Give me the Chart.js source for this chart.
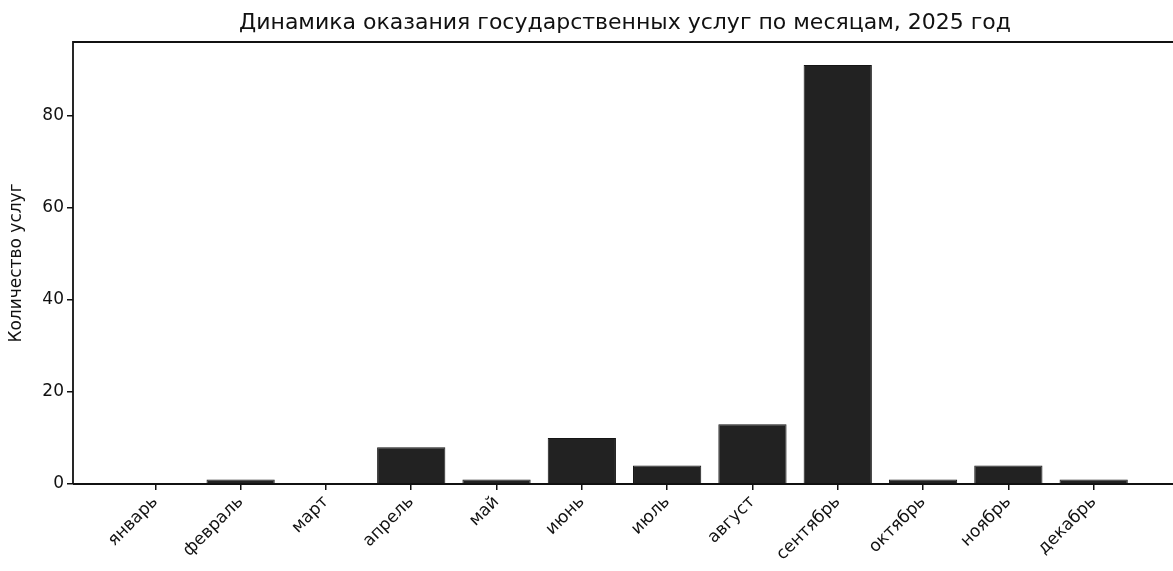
<!DOCTYPE html>
<html>
<head>
<meta charset="utf-8">
<script src="https://cdn.jsdelivr.net/npm/chart.js@4/dist/chart.umd.min.js"></script>
<style>
  html, body { margin: 0; padding: 0; background: #ffffff; }
  #wrap { width: 1173px; height: 571px; position: relative; }
</style>
</head>
<body>
<div id="wrap"><canvas id="c" width="1173" height="571"></canvas></div>
<script>
const chartTitle = 'Динамика оказания государственных услуг по месяцам, 2025 год';
const yAxisTitle = 'Количество услуг';
const months = ['январь', 'февраль', 'март', 'апрель', 'май', 'июнь', 'июль', 'август', 'сентябрь', 'октябрь', 'ноябрь', 'декабрь'];
const services = [0, 1, 0, 8, 1, 10, 4, 13, 91, 1, 4, 1];
const yTicks = [0, 20, 40, 60, 80];

const FONT = "'DejaVu Sans', sans-serif";
const INK = '#111111';

const points = months.map((m, i) => ({ x: i, y: services[i] }));

const framePlugin = {
  id: 'frame',
  afterDraw(chart) {
    const { ctx, chartArea: a } = chart;
    ctx.save();
    ctx.strokeStyle = INK;
    ctx.lineWidth = 1.8;
    ctx.beginPath();
    ctx.moveTo(a.left, a.bottom);
    ctx.lineTo(a.left, a.top);
    ctx.lineTo(a.right + 2, a.top);
    ctx.moveTo(a.left, a.bottom);
    ctx.lineTo(a.right + 2, a.bottom);
    ctx.stroke();
    ctx.fillStyle = INK;
    ctx.font = "22px " + FONT;
    ctx.textAlign = 'center';
    ctx.textBaseline = 'middle';
    ctx.fillText(chartTitle, (a.left + a.right) / 2 + 2, 23);
    ctx.restore();
  }
};

new Chart(document.getElementById('c'), {
  type: 'bar',
  data: {
    datasets: [{
      data: points,
      backgroundColor: '#222222',
      borderColor: '#151515',
      borderWidth: 1,
      barPercentage: 0.8,
      categoryPercentage: 1.0
    }]
  },
  options: {
    responsive: false,
    animation: false,
    layout: { padding: { top: 42, left: 6, right: 0, bottom: 0 } },
    plugins: { legend: { display: false }, tooltip: { enabled: false } },
    scales: {
      x: {
        type: 'linear',
        min: -0.965,
        max: 11.93,
        offset: false,
        afterBuildTicks(scale) {
          scale.ticks = months.map((m, i) => ({ value: i }));
        },
        afterFit(scale) { scale.height = 87; },
        grid: { offset: false, drawOnChartArea: false, drawTicks: true, tickLength: 6, color: INK, lineWidth: 1.5 },
        border: { display: false },
        ticks: {
          autoSkip: false,
          maxRotation: 45,
          minRotation: 45,
          padding: 2,
          color: INK,
          font: { family: FONT, size: 17 },
          callback: (v) => months[v] !== undefined ? months[v] : ''
        }
      },
      y: {
        min: 0,
        max: 96,
        afterBuildTicks(scale) {
          scale.ticks = yTicks.map(v => ({ value: v }));
        },
        afterFit(scale) { scale.width = 67; },
        grid: { drawOnChartArea: false, drawTicks: true, tickLength: 6, color: INK, lineWidth: 1.5 },
        border: { display: false },
        ticks: { padding: 3, color: INK, font: { family: FONT, size: 17 } },
        title: {
          display: true,
          text: yAxisTitle,
          color: INK,
          font: { family: FONT, size: 17 },
          padding: { top: 0, bottom: 4 }
        }
      }
    }
  },
  plugins: [framePlugin]
});
</script>
</body>
</html>
